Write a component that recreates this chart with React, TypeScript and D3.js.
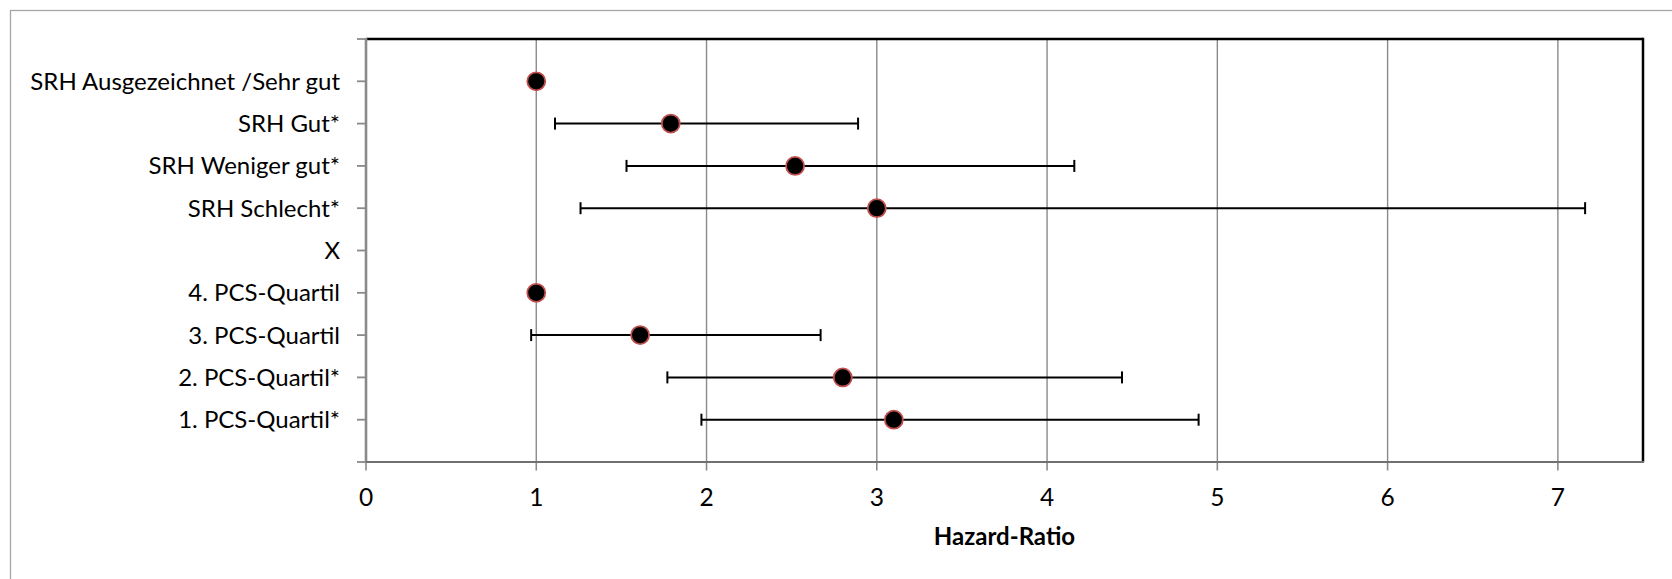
import React from "react";
import * as d3 from "d3";

const categories = [
  "SRH Ausgezeichnet /Sehr gut",
  "SRH Gut*",
  "SRH Weniger gut*",
  "SRH Schlecht*",
  "X",
  "4. PCS-Quartil",
  "3. PCS-Quartil",
  "2. PCS-Quartil*",
  "1. PCS-Quartil*",
];
const hazard: (number | null)[] = [1.0, 1.79, 2.52, 3.0, null, 1.0, 1.61, 2.8, 3.1];
const ciLow: (number | null)[] = [null, 1.11, 1.53, 1.26, null, null, 0.97, 1.77, 1.97];
const ciHigh: (number | null)[] = [null, 2.89, 4.16, 7.16, null, null, 2.67, 4.44, 4.89];
const xTicks = [0, 1, 2, 3, 4, 5, 6, 7];
const xTitle = "Hazard-Ratio";

const W = 1672;
const H = 579;
const plot = { left: 366, right: 1643, top: 39, bottom: 462 };
const FONT = "Lato, 'Open Sans', sans-serif";

export default function App() {
  const x = d3.scaleLinear().domain([0, 7.5]).range([plot.left, plot.right]);
  const y = d3.scaleLinear().domain([0, categories.length + 1]).range([plot.top, plot.bottom]);
  const yTickVals = d3.range(0, categories.length + 2);
  const capH = 6;

  return (
    <svg
      width={W}
      height={H}
      style={{ position: "absolute", left: 0, top: 0, background: "#fff" }}
      fontFamily={FONT}
    >
      <rect x={0} y={0} width={W} height={H} fill="#fff" />
      {/* outer chart border */}
      <rect x={10.5} y={10.5} width={W} height={H} fill="none" stroke="#a6a6a6" strokeWidth={1.3} />

      {/* gridlines */}
      {xTicks.filter((t) => t > 0).map((t) => (
        <line key={"g" + t} x1={x(t)} x2={x(t)} y1={plot.top} y2={plot.bottom} stroke="#8a8a8a" strokeWidth={1.4} />
      ))}

      {/* plot border top/right */}
      <line x1={plot.left} x2={plot.right} y1={plot.top} y2={plot.top} stroke="#000" strokeWidth={2.5} />
      <line x1={plot.right} x2={plot.right} y1={plot.top - 1.2} y2={plot.bottom} stroke="#000" strokeWidth={2.5} />

      {/* y axis ticks */}
      {yTickVals.map((v) => (
        <line key={"yt" + v} x1={plot.left - 9} x2={plot.left} y1={y(v)} y2={y(v)} stroke="#8a8a8a" strokeWidth={1.8} />
      ))}
      {/* x axis ticks */}
      {xTicks.map((t) => (
        <line key={"xt" + t} x1={x(t)} x2={x(t)} y1={plot.bottom} y2={plot.bottom + 8.5} stroke="#8a8a8a" strokeWidth={1.6} />
      ))}

      {/* axes lines */}
      <line x1={plot.left} x2={plot.left} y1={plot.top - 1} y2={plot.bottom + 1} stroke="#8a8a8a" strokeWidth={2.6} />
      <line x1={plot.left} x2={plot.right + 1} y1={plot.bottom} y2={plot.bottom} stroke="#707070" strokeWidth={2.2} />

      {/* y labels */}
      {categories.map((c, i) => (
        <text
          key={"yl" + i}
          x={340}
          y={y(i + 1)}
          dy="0.35em"
          textAnchor="end"
          fontSize={24}
          fill="#000"
        >
          {c}
        </text>
      ))}

      {/* x labels */}
      {xTicks.map((t) => (
        <text key={"xl" + t} x={x(t)} y={506} textAnchor="middle" fontSize={24.5} fill="#000">
          {t}
        </text>
      ))}
      <text x={(plot.left + plot.right) / 2} y={545} textAnchor="middle" fontSize={24} fontWeight="bold" fill="#000">
        {xTitle}
      </text>

      {/* error bars */}
      {categories.map((c, i) => {
        const lo = ciLow[i];
        const hi = ciHigh[i];
        if (lo == null || hi == null) return null;
        const yy = y(i + 1);
        return (
          <g key={"eb" + i} stroke="#000" strokeWidth={2}>
            <line x1={x(lo)} x2={x(hi)} y1={yy} y2={yy} />
            <line x1={x(lo)} x2={x(lo)} y1={yy - capH} y2={yy + capH} />
            <line x1={x(hi)} x2={x(hi)} y1={yy - capH} y2={yy + capH} />
          </g>
        );
      })}

      {/* markers */}
      {hazard.map((v, i) =>
        v == null ? null : (
          <circle key={"m" + i} cx={x(v)} cy={y(i + 1)} r={9} fill="#000" stroke="#c0504d" strokeWidth={1.8} />
        )
      )}
    </svg>
  );
}
